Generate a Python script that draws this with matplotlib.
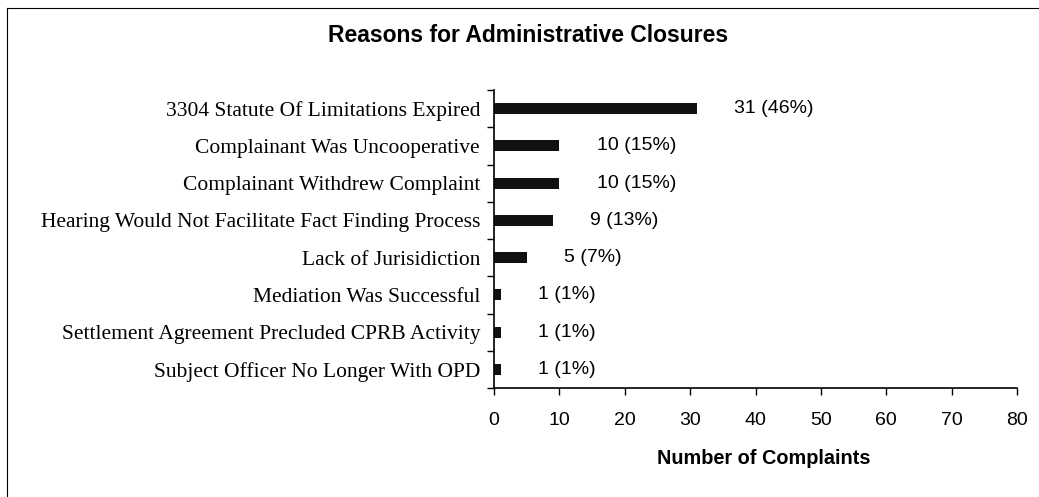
import matplotlib

matplotlib.use("Agg")
import matplotlib.pyplot as plt
from matplotlib.lines import Line2D
from matplotlib.ticker import MultipleLocator

reasons = [
    "3304 Statute Of Limitations Expired",
    "Complainant Was Uncooperative",
    "Complainant Withdrew Complaint",
    "Hearing Would Not Facilitate Fact Finding Process",
    "Lack of Jurisidiction",
    "Mediation Was Successful",
    "Settlement Agreement Precluded CPRB Activity",
    "Subject Officer No Longer With OPD",
]
counts = [31, 10, 10, 9, 5, 1, 1, 1]
percents = [46, 15, 15, 13, 7, 1, 1, 1]

SANS = "Liberation Sans"
SERIF = "Liberation Serif"

W, H = 1039, 497
fig = plt.figure(figsize=(W / 100, H / 100), dpi=100)
ax = fig.add_axes([494 / W, 1 - 388 / H, (1017 - 494) / W, (388 - 90) / H])

y_pos = list(range(len(reasons)))
ax.barh(y_pos, counts, height=0.3, color="#111111", edgecolor="none")

for y, c, p in zip(y_pos, counts, percents):
    ax.annotate(
        f"{c} ({p}%)",
        xy=(c, y),
        xytext=(27, 0),
        textcoords="offset points",
        va="center",
        ha="left",
        fontsize=14,
        family=SANS,
    )

ax.set_ylim(len(reasons) - 0.5, -0.5)
ax.set_xlim(0, 80)
ax.xaxis.set_major_locator(MultipleLocator(10))
ax.set_yticks(y_pos)
ax.set_yticklabels(reasons, family=SERIF, fontsize=15.5)
ax.set_yticks([i - 0.5 for i in range(len(reasons) + 1)], minor=True)
ax.tick_params(axis="y", which="major", length=0, pad=10)
ax.tick_params(axis="y", which="minor", length=5, width=1, direction="out")
ax.tick_params(axis="x", length=5, width=1, direction="out", pad=12, labelsize=14)
for lbl in ax.get_xticklabels():
    lbl.set_family(SANS)

ax.spines["top"].set_visible(False)
ax.spines["right"].set_visible(False)
ax.spines["left"].set_linewidth(1.2)
ax.spines["bottom"].set_linewidth(1.2)

ax.set_xlabel("Number of Complaints", family=SANS, fontsize=14.3,
              fontweight="bold")
ax.xaxis.set_label_coords(0.515, -0.205)

fig.text(528 / W, 1 - 35 / H, "Reasons for Administrative Closures",
         ha="center", va="center", family=SANS, fontsize=16.5, fontweight="bold")

# thin frame around the chart area (top and left edges visible)
fig.add_artist(Line2D([7 / W, 7 / W], [0, 1 - 8 / H], transform=fig.transFigure,
                      color="black", linewidth=0.8))
fig.add_artist(Line2D([7 / W, 1], [1 - 8 / H, 1 - 8 / H], transform=fig.transFigure,
                      color="black", linewidth=0.8))

fig.savefig("out.png", dpi=100)
